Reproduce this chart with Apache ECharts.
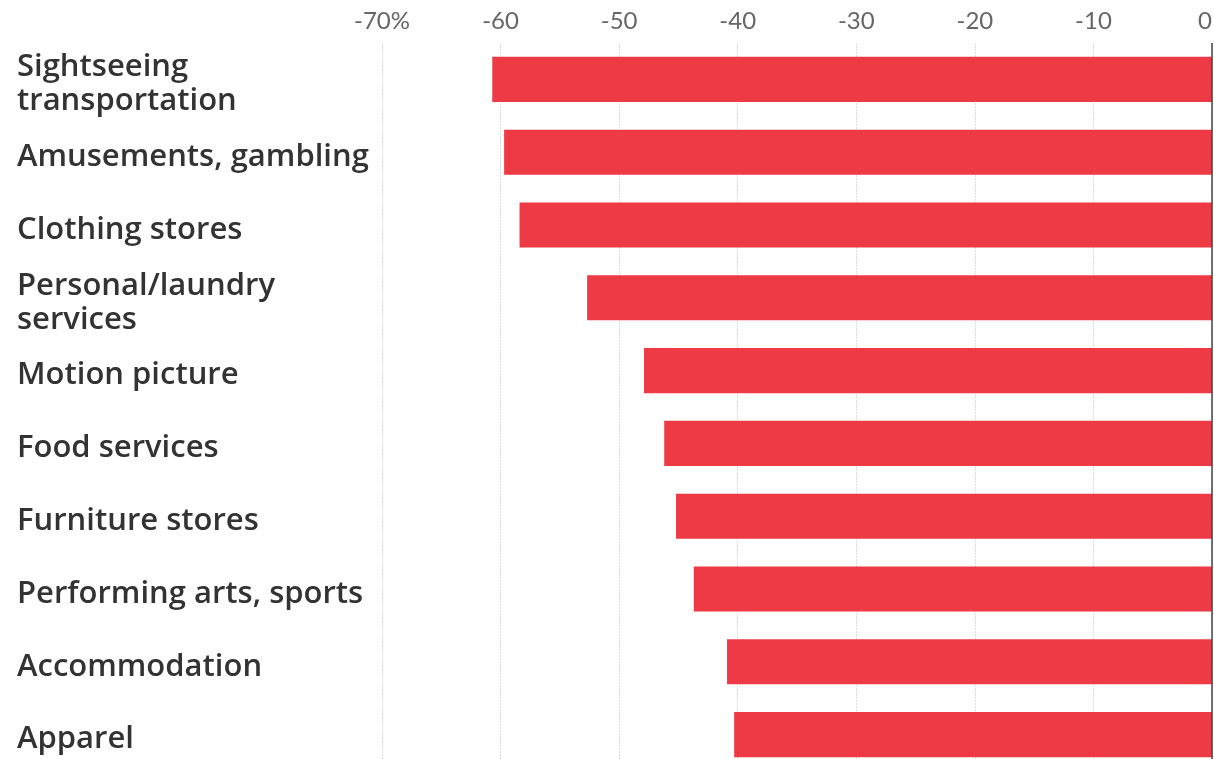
<!DOCTYPE html>
<html>
<head>
<meta charset="utf-8">
<script src="https://cdn.jsdelivr.net/npm/echarts@6/dist/echarts.min.js"></script>
<style>
html,body{margin:0;padding:0;background:#fff;}
#chart{width:1214px;height:759px;}
</style>
</head>
<body>
<div id="chart"></div>
<script>
var categories = [
  "Sightseeing\ntransportation",
  "Amusements, gambling",
  "Clothing stores",
  "Personal/laundry\nservices",
  "Motion picture",
  "Food services",
  "Furniture stores",
  "Performing arts, sports",
  "Accommodation",
  "Apparel"
];
var values = [-60.7, -59.7, -58.4, -52.7, -47.9, -46.2, -45.2, -43.7, -40.9, -40.3];
var tickMin = -70, tickMax = 0, tickStep = 10;

var chart = echarts.init(document.getElementById('chart'), null, {renderer: 'canvas'});
chart.setOption({
  animation: false,
  backgroundColor: '#fff',
  grid: [
    {left: 382, right: 2, top: 43, height: 728, containLabel: false, outerBoundsMode: 'none'},
    {left: 382, right: 2, top: 48, height: 728, containLabel: false, outerBoundsMode: 'none'}
  ],
  xAxis: [{
    type: 'value', position: 'top', min: tickMin, max: tickMax, interval: tickStep, gridIndex: 0,
    axisLine: {show: false}, axisTick: {show: false},
    axisLabel: {
      color: '#666', fontFamily: 'Lato', fontSize: 24, margin: 10,
      alignMaxLabel: 'right',
      formatter: function (v) { return v === tickMin ? v + '%' : String(v); }
    },
    splitLine: {show: true, lineStyle: {color: '#dcdcdc', width: 1, type: [2, 1]}}
  }, {
    type: 'value', gridIndex: 1, min: tickMin, max: tickMax, show: false
  }],
  yAxis: [{
    type: 'category', data: categories, inverse: true, gridIndex: 0,
    axisLine: {show: false}, axisTick: {show: false}, axisLabel: {show: false}
  }, {
    type: 'category', data: categories, inverse: true, gridIndex: 1,
    axisLine: {show: false}, axisTick: {show: false}, splitLine: {show: false},
    axisLabel: {
      align: 'left', margin: 365, color: '#333', fontFamily: 'Open Sans',
      fontWeight: 600, fontSize: 31, lineHeight: 34
    }
  }],
  series: [{
    type: 'bar', data: values, barCategoryGap: '38%', xAxisIndex: 0, yAxisIndex: 0,
    itemStyle: {color: '#ee3a45'},
    markLine: {
      silent: true, symbol: 'none', label: {show: false},
      lineStyle: {color: '#444', width: 1.5, type: 'solid'},
      data: [{xAxis: 0}]
    }
  }]
});
</script>
</body>
</html>
